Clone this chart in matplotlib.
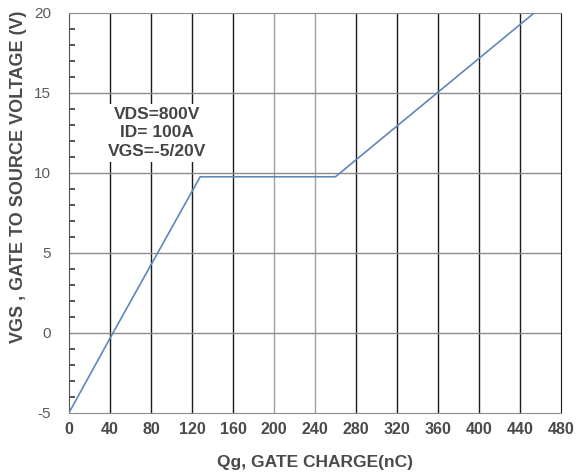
import matplotlib.pyplot as plt
from matplotlib.ticker import MultipleLocator

plt.rcParams['font.family'] = ['Liberation Sans', 'DejaVu Sans']
plt.rcParams['axes.unicode_minus'] = False

# gate charge curve (nC, V)
qg = [0, 43, 128, 260, 454]
vgs = [-5, 0, 9.75, 9.75, 20]

x_ticks = [0, 40, 80, 120, 160, 200, 240, 280, 320, 360, 400, 440, 480]
y_ticks = [-5, 0, 5, 10, 15, 20]
light_lines = [200, 240]

fig = plt.figure(figsize=(5.8, 4.76), dpi=100)
ax = fig.add_axes([0.119, 0.133, 0.848, 0.84])

for x in x_ticks[1:-1]:
    c = '#a0a0a0' if x in light_lines else '#1a1a1a'
    ax.axvline(x, color=c, lw=1.0, zorder=1)
for y in y_ticks[1:-1]:
    ax.axhline(y, color='#8c8c8c', lw=1.0, zorder=1)

ax.plot(qg, vgs, color='#5e87ba', lw=1.2, zorder=3)

ax.set_xlim(0, 480)
ax.set_ylim(-5, 20)
ax.set_xticks(x_ticks)
ax.set_yticks(y_ticks)
ax.yaxis.set_minor_locator(MultipleLocator(1))
ax.tick_params(axis='x', length=0, pad=7, labelsize=11.5, labelcolor='#4a4a4a')
ax.tick_params(axis='y', which='major', length=0, pad=13, labelsize=11,
               labelcolor='#5a5a5a')
ax.tick_params(axis='y', which='minor', direction='in', length=4, width=1.2,
               color='#333333')
for lab in ax.get_xticklabels():
    lab.set_fontweight('bold')

for side in ['top', 'bottom']:
    ax.spines[side].set_color('#8c8c8c')
ax.spines['left'].set_color('#555555')
ax.spines['right'].set_color('#1a1a1a')

ax.set_xlabel('Qg, GATE CHARGE(nC)', fontsize=12.5, fontweight='bold',
              color='#4a4a4a', labelpad=13)
ax.set_ylabel('VGS , GATE TO SOURCE VOLTAGE (V)', fontsize=13,
              fontweight='bold', color='#4a4a4a')
ax.yaxis.set_label_coords(-0.085, 0.59)

ax.text(86, 12.5, 'VDS=800V\nID= 100A\nVGS=-5/20V', ha='center', va='center',
        fontsize=12.5, fontweight='bold', color='#444444', linespacing=1.3,
        bbox=dict(facecolor='white', edgecolor='none', pad=2), zorder=4)

fig.savefig('out.png', dpi=100)
